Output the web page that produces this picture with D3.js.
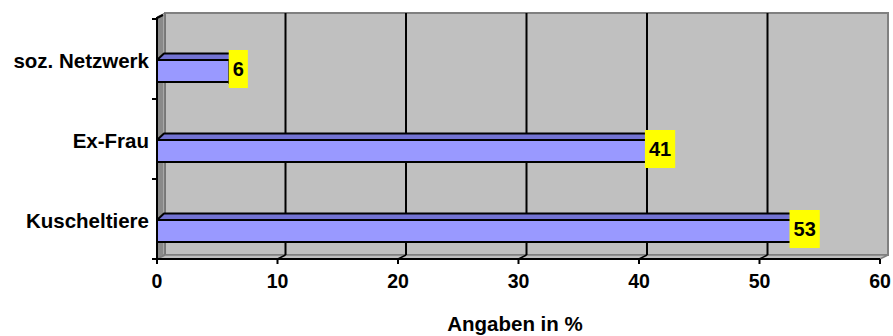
<!DOCTYPE html>
<html>
<head>
<meta charset="utf-8">
<script src="https://cdn.jsdelivr.net/npm/d3@7"></script>
<style>
  html, body { margin: 0; padding: 0; background: #ffffff; }
  svg { display: block; font-family: "Liberation Sans", Arial, sans-serif; font-weight: bold; }
</style>
</head>
<body>
<svg id="chart" width="893" height="336"></svg>
<script>
// Categories from bottom to top, with their percentage values
const categories = ["Kuscheltiere", "Ex-Frau", "soz. Netzwerk"];
const values = [53, 41, 6];
const xTicks = [0, 10, 20, 30, 40, 50, 60];
const axisTitle = "Angaben in %";

(function () {
  const plotL = 157, plotR = 880, plotT = 17, plotB = 259;
  const dx = 8, dy = -4;          // depth offset of the back wall
  const bdx = 7, bdy = -6.5;      // depth of each bar

  const svg = d3.select("#chart");

  const x = d3.scaleLinear().domain([0, 60]).range([plotL, plotR]);
  const y = d3.scaleBand().domain(categories).range([plotB, plotT + 2]);

  const poly = pts => pts.map(p => p.join(",")).join(" ");

  // Back wall
  svg.append("polygon")
    .attr("points", poly([[plotL + dx, plotT + dy], [plotR + dx, plotT + dy], [plotR + dx, plotB + dy], [plotL + dx, plotB + dy]]))
    .attr("fill", "#c0c0c0").attr("stroke", "#808080").attr("stroke-width", 2);

  // Side wall
  svg.append("polygon")
    .attr("points", poly([[plotL, plotT], [plotL + dx, plotT + dy], [plotL + dx, plotB + dy], [plotL, plotB]]))
    .attr("fill", "#8a8a8a").attr("stroke", "#6e6e6e").attr("stroke-width", 1);
  svg.append("line")
    .attr("x1", plotL + dx - 1.5).attr("x2", plotL + dx - 1.5)
    .attr("y1", plotT + dy + 1).attr("y2", plotB + dy - 1)
    .attr("stroke", "#a8a8a8").attr("stroke-width", 1);

  // Floor
  svg.append("polygon")
    .attr("points", poly([[plotL, plotB], [plotL + dx, plotB + dy], [plotR + dx, plotB + dy], [plotR, plotB]]))
    .attr("fill", "#c0c0c0").attr("stroke", "#808080").attr("stroke-width", 1.5);

  // Gridlines on the back wall and across the floor
  const grid = svg.append("g");
  xTicks.slice(1, -1).forEach(t => {
    grid.append("line")
      .attr("x1", x(t) + dx).attr("x2", x(t) + dx)
      .attr("y1", plotT + dy).attr("y2", plotB + dy)
      .attr("stroke", "#000").attr("stroke-width", 2);
    grid.append("line")
      .attr("x1", x(t) + dx).attr("x2", x(t))
      .attr("y1", plotB + dy).attr("y2", plotB)
      .attr("stroke", "#000").attr("stroke-width", 1.5);
  });

  // Bars (top face, end face, front face)
  const bars = svg.append("g");
  categories.forEach((c, i) => {
    const v = values[i];
    const cy = y(c) + y.bandwidth() / 2;
    const y0 = cy + 1, y1 = cy + 23;
    const x0 = x(0), x1 = x(v);
    bars.append("polygon")
      .attr("points", poly([[x0, y0], [x0 + bdx, y0 + bdy], [x1 + bdx, y0 + bdy], [x1, y0]]))
      .attr("fill", "#7272d2").attr("stroke", "#000").attr("stroke-width", 2).attr("stroke-linejoin", "round");
    bars.append("polygon")
      .attr("points", poly([[x1, y0], [x1 + bdx, y0 + bdy], [x1 + bdx, y1 + bdy], [x1, y1]]))
      .attr("fill", "#5c5cb0").attr("stroke", "#000").attr("stroke-width", 2);
    bars.append("rect")
      .attr("x", x0).attr("y", y0).attr("width", x1 - x0).attr("height", y1 - y0)
      .attr("fill", "#9999ff").attr("stroke", "#000").attr("stroke-width", 2);
  });

  // Y axis line with category ticks
  const axes = svg.append("g").attr("stroke", "#000").attr("stroke-width", 2);
  axes.append("line").attr("x1", plotL).attr("x2", plotL).attr("y1", plotT).attr("y2", plotB);
  axes.append("line").attr("x1", plotL).attr("x2", plotL + 6).attr("y1", plotT + 1).attr("y2", plotT - 2);
  const yEdges = categories.map(c => y(c)).concat([y(categories[0]) + y.bandwidth()]);
  yEdges.forEach(e => {
    axes.append("line").attr("x1", plotL - 5).attr("x2", plotL).attr("y1", e).attr("y2", e);
  });

  // X axis line with ticks
  axes.append("line").attr("x1", plotL - 5).attr("x2", plotR).attr("y1", plotB).attr("y2", plotB);
  xTicks.forEach(t => {
    axes.append("line").attr("x1", x(t)).attr("x2", x(t)).attr("y1", plotB).attr("y2", plotB + 5);
  });

  // Tick labels
  svg.append("g").selectAll("text").data(xTicks).join("text")
    .attr("x", d => x(d)).attr("y", 288)
    .attr("text-anchor", "middle").attr("font-size", 19.5).attr("fill", "#000")
    .text(d => d);

  // Category labels
  svg.append("g").selectAll("text").data(categories).join("text")
    .attr("x", 149).attr("y", d => y(d) + y.bandwidth() / 2 + 9)
    .attr("text-anchor", "end").attr("font-size", 20.5).attr("fill", "#000")
    .text(d => d);

  // Axis title
  svg.append("text")
    .attr("x", 515).attr("y", 331)
    .attr("text-anchor", "middle").attr("font-size", 20.5).attr("fill", "#000")
    .text(axisTitle);

  // Value labels on yellow boxes
  const labels = svg.append("g");
  categories.forEach((c, i) => {
    const v = values[i];
    const cy = y(c) + y.bandwidth() / 2 + 10;
    const cx = x(v) + 9;
    const t = labels.append("text")
      .attr("x", cx).attr("y", cy + 7)
      .attr("text-anchor", "middle").attr("font-size", 20).attr("fill", "#000")
      .text(v);
    const w = t.node().getComputedTextLength() + 8;
    labels.insert("rect", "text")
      .attr("x", cx - w / 2).attr("y", cy - 19).attr("width", w).attr("height", 38)
      .attr("fill", "#ffff00");
  });
})();
</script>
</body>
</html>
